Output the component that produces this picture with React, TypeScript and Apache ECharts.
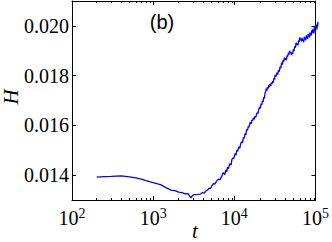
import React, { useEffect, useRef } from "react";
import * as echarts from "echarts";

const tValues: number[] = [
  200, 250, 300, 400, 500, 600, 700, 800, 900, 1000, 1200, 1400, 1600, 1800, 2000, 2200,
  2400, 2600, 2700, 2820, 2950, 3100, 3400, 3700, 3900, 4100, 4300, 4500, 4700, 4900, 5100,
  5300, 5500, 5800, 6100, 6400, 6700,
  7000, 7300, 7500, 7700, 7900, 8100, 8400, 8700, 8900, 9200, 9400, 9700, 10000, 10200, 10500,
  10800, 11100, 11400, 11700, 12000, 12300, 12600, 12900, 13200, 13500, 13800, 14100, 14400,
  14700, 15000, 15300, 15600, 15900, 16300, 16700, 17000, 17400, 17800, 18200, 18600, 19000,
  19400, 19800, 20200, 20600, 21000, 21400, 21800, 22200, 22600, 23000, 23400, 23800, 24200,
  24600, 25000, 25500, 26000, 26500, 27000, 27500, 28000, 28500, 29000, 29500, 30000, 30700,
  31500, 32200, 33000, 33700, 34500, 35200, 36000, 36700, 37500, 38200, 39000, 39700, 40500,
  41200, 42000, 42700, 43500, 44200, 45000, 45700, 46500, 47200, 48000, 49000, 50000, 51000,
  52000, 53000, 54000, 55000, 56000, 57000, 58000, 59000, 60000, 61000, 62000, 63000, 64000,
  65000, 66000, 67000, 68000, 69000, 70000, 71000, 72000, 73000, 74000, 75000, 76000, 77000,
  78000, 79000, 80000, 81000, 82000, 83000, 84000, 85000, 86000, 87000, 88000, 89000, 90000,
  91000, 92000, 93000, 94000, 95000, 96000, 97000, 98000, 99000, 100000,
];
const hValues: number[] = [
  0.01392, 0.01394, 0.01395, 0.01397, 0.01393, 0.01389, 0.01384, 0.01378, 0.01373, 0.01369,
  0.01362, 0.0135, 0.0134, 0.01338, 0.01332, 0.0133, 0.01325, 0.01326, 0.01318, 0.01309,
  0.01318, 0.01322, 0.01323, 0.01324, 0.0133, 0.01328, 0.01336, 0.0134, 0.01348, 0.01346,
  0.01358, 0.01366, 0.01364, 0.01376, 0.01384, 0.01382, 0.01396,
  0.0141, 0.01402, 0.0142, 0.01414, 0.01432, 0.01426, 0.01446, 0.0144, 0.01462, 0.0147,
  0.01466, 0.01486, 0.0148, 0.015, 0.01496, 0.01514, 0.01508, 0.01526, 0.01534, 0.0153,
  0.01552, 0.01548, 0.01568, 0.01562, 0.01584, 0.0158, 0.01596, 0.01592, 0.01606, 0.01612,
  0.01606, 0.01622, 0.01618, 0.0163, 0.01624, 0.01636, 0.01632, 0.01644, 0.01652, 0.01648,
  0.01666, 0.01674, 0.01668, 0.01688, 0.01682, 0.017, 0.01694, 0.01714, 0.01708, 0.0173,
  0.01736, 0.01748, 0.0174, 0.01754, 0.01748, 0.01762, 0.01754, 0.01766, 0.01758, 0.01772,
  0.01766, 0.01778, 0.01772, 0.0179, 0.01784, 0.01802, 0.01796, 0.01812, 0.01804, 0.01822,
  0.01816, 0.01836, 0.0183, 0.01852, 0.01844, 0.01862, 0.01856, 0.01872, 0.01864, 0.0187,
  0.01862, 0.01882, 0.01876, 0.01892, 0.01884, 0.019, 0.01892, 0.01896, 0.01884, 0.01892,
  0.01886, 0.01906, 0.01898, 0.01918, 0.01912, 0.01932, 0.01924, 0.01928, 0.01922, 0.01942,
  0.01936, 0.01954, 0.01944, 0.01948, 0.01938, 0.01952, 0.0194, 0.01944, 0.01934, 0.01956,
  0.01946, 0.01952, 0.01942, 0.01962, 0.0195, 0.01958, 0.01948, 0.01968, 0.01958, 0.01964,
  0.01954, 0.01974, 0.01962, 0.0197, 0.01962, 0.01982, 0.01972, 0.01986, 0.01974, 0.0198,
  0.0197, 0.01994, 0.01982, 0.01988, 0.01978, 0.02002, 0.0199, 0.01998, 0.01986, 0.0201,
  0.01998, 0.02016,
];
const yTicks: number[] = [0.014, 0.016, 0.018, 0.02];

const minorTicks: number[] = [];
for (let n = 2; n < 5; n++) {
  for (let k = 2; k <= 9; k++) minorTicks.push(n + Math.log10(k));
}

const SERIF = "'Liberation Serif', 'DejaVu Serif', serif";

export default function App() {
  const ref = useRef<HTMLDivElement>(null);
  useEffect(() => {
    if (!ref.current) return;
    const chart = echarts.init(ref.current, null, { renderer: "svg" });
    const gridPos = { left: 72, right: 14, top: 1, bottom: 42 };
    const line = { show: true, lineStyle: { color: "#000", width: 1 } };
    chart.setOption({
      animation: false,
      grid: [{ ...gridPos }, { ...gridPos }, { ...gridPos }],
      xAxis: [
        { gridIndex: 0, type: "log", logBase: 10, min: 100, max: 100000, position: "bottom",
          axisLine: { show: false }, axisTick: { show: false }, axisLabel: { show: false }, splitLine: { show: false } },
        { gridIndex: 1, type: "value", min: 2, max: 5, interval: 1, position: "bottom",
          axisLine: line, axisTick: { show: true, inside: true, length: 4, lineStyle: { color: "#000" } },
          splitLine: { show: false },
          axisLabel: {
            show: true, margin: 6,
            formatter: (v: number) => `{b|10}{s|${Math.round(v)}}`,
            rich: {
              b: { fontFamily: SERIF, fontSize: 20, color: "#000", lineHeight: 22, verticalAlign: "bottom" },
              s: { fontFamily: SERIF, fontSize: 14, color: "#000", lineHeight: 22, verticalAlign: "top", padding: [0, 0, 8, 0] },
            },
          } },
        { gridIndex: 1, type: "value", min: 2, max: 5, interval: 1, position: "top",
          axisLine: line, axisTick: { show: true, inside: true, length: 4, lineStyle: { color: "#000" } },
          axisLabel: { show: false }, splitLine: { show: false } },
        { gridIndex: 2, type: "value", min: 2, max: 5, position: "bottom",
          axisLine: { show: false }, axisLabel: { show: false }, splitLine: { show: false },
          axisTick: { show: true, inside: true, length: 2, customValues: minorTicks, lineStyle: { color: "#000" } } },
        { gridIndex: 2, type: "value", min: 2, max: 5, position: "top",
          axisLine: { show: false }, axisLabel: { show: false }, splitLine: { show: false },
          axisTick: { show: true, inside: true, length: 2, customValues: minorTicks, lineStyle: { color: "#000" } } },
      ],
      yAxis: [
        { gridIndex: 0, type: "value", min: 0.013, max: 0.021, position: "left",
          axisLine: line, splitLine: { show: false },
          axisTick: { show: true, inside: true, length: 4, customValues: yTicks, lineStyle: { color: "#000" } },
          axisLabel: { show: true, customValues: yTicks, margin: 3, fontFamily: SERIF, fontSize: 20, color: "#000",
            formatter: (v: number) => v.toFixed(3) } },
        { gridIndex: 1, type: "value", min: 0.013, max: 0.021, position: "right",
          axisLine: line, splitLine: { show: false }, axisLabel: { show: false },
          axisTick: { show: true, inside: true, length: 4, customValues: yTicks, lineStyle: { color: "#000" } } },
        { gridIndex: 2, type: "value", min: 0.013, max: 0.021, show: false },
      ],
      series: [
        {
          type: "line", xAxisIndex: 0, yAxisIndex: 0, showSymbol: false, symbol: "none",
          data: tValues.map((t, i) => [t, hValues[i]]),
          lineStyle: { color: "#0000ff", width: 1.3 },
        },
      ],
      graphic: [
        { type: "text", x: 11, y: 97, rotation: Math.PI / 2,
          style: { text: "H", fontFamily: SERIF, fontStyle: "italic", fontSize: 21, fill: "#000", align: "center", verticalAlign: "middle" } },
        { type: "text", x: 195, y: 241,
          style: { text: "t", fontFamily: SERIF, fontStyle: "italic", fontSize: 21, fill: "#000", align: "center", verticalAlign: "bottom" } },
        { type: "text", x: 162, y: 22,
          style: { text: "(b)", fontFamily: "'Liberation Sans', Arial, sans-serif", fontSize: 20, fill: "#000", align: "center", verticalAlign: "middle" } },
      ],
    });
    return () => chart.dispose();
  }, []);
  return <div ref={ref} style={{ position: "absolute", left: 0, top: 0, width: 332, height: 242 }} />;
}
